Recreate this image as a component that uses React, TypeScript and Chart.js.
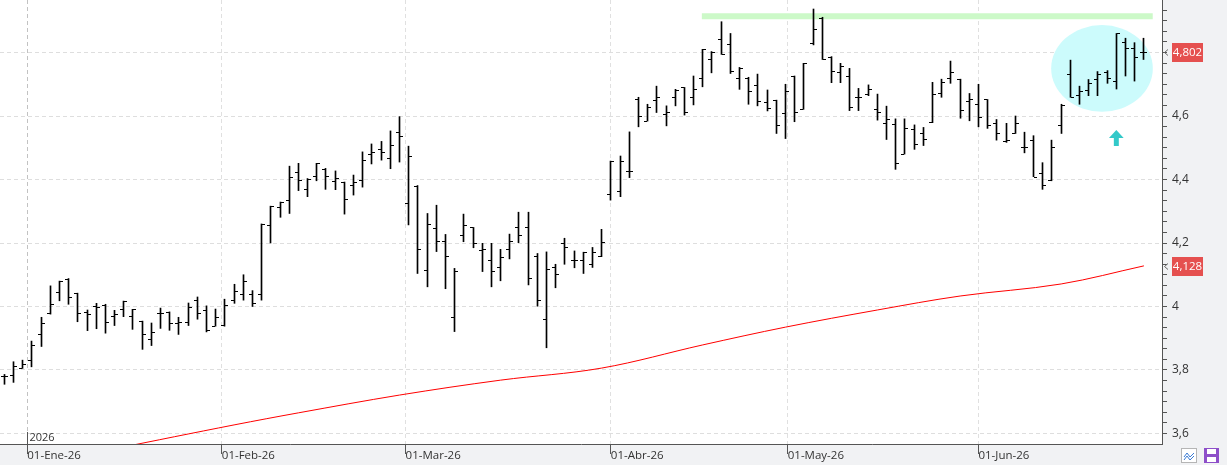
import React, { useEffect, useRef } from "react";
import { Chart, registerables } from "chart.js";
Chart.register(...registerables);

// ---- data (one bar per trading day, index 0 = 29-Dic-25) ----
const OPEN = [3.782,3.783,3.805,3.831,3.912,3.978,4.045,4.087,4.041,3.984,4.000,4.005,3.970,3.991,3.970,3.954,3.898,3.978,3.982,3.947,3.950,4.019,3.988,3.938,3.942,
4.020,4.040,4.040,4.040,4.256,4.312,4.337,4.423,4.369,4.411,4.434,4.395,4.391,4.382,4.400,4.480,4.495,4.467,4.549,4.325,
4.380,4.114,4.247,4.205,3.968,4.225,4.249,4.178,4.148,4.123,4.180,4.249,4.249,4.158,3.961,4.125,4.199,4.146,4.146,4.134,4.160,
4.354,4.363,4.426,4.653,4.585,4.650,4.605,4.659,4.690,4.661,4.719,4.778,4.841,4.827,4.719,4.719,4.697,4.644,4.650,4.608,
4.726,4.621,4.829,4.908,4.787,4.739,4.726,4.659,4.668,4.621,4.578,4.575,4.480,4.559,4.545,4.582,4.674,4.719,4.716,
4.647,4.637,4.652,4.579,4.521,4.545,4.503,4.524,4.421,4.400,4.573,4.732,4.666,4.682,4.715,4.740,4.710,4.834,4.815,4.801];
const HIGH = [3.786,3.826,3.831,3.891,3.966,4.065,4.080,4.088,4.042,3.989,4.010,4.007,3.988,4.017,3.991,3.954,3.948,3.995,3.983,3.966,4.011,4.030,4.002,3.992,4.023,
4.070,4.100,4.050,4.260,4.316,4.329,4.442,4.451,4.403,4.451,4.435,4.427,4.392,4.414,4.487,4.512,4.520,4.553,4.598,4.505,
4.381,4.293,4.319,4.227,4.120,4.291,4.249,4.199,4.199,4.180,4.228,4.297,4.297,4.167,4.172,4.133,4.215,4.175,4.171,4.186,4.243,
4.458,4.474,4.550,4.659,4.637,4.694,4.632,4.684,4.690,4.726,4.810,4.803,4.897,4.860,4.753,4.722,4.732,4.682,4.650,4.700,
4.726,4.766,4.937,4.911,4.787,4.766,4.750,4.687,4.698,4.669,4.631,4.591,4.591,4.572,4.564,4.706,4.716,4.773,4.716,
4.671,4.700,4.652,4.589,4.577,4.600,4.549,4.538,4.453,4.524,4.637,4.776,4.694,4.715,4.740,4.743,4.860,4.845,4.831,4.845];
const LOW = [3.755,3.761,3.805,3.810,3.874,3.976,4.018,4.007,3.952,3.924,3.930,3.916,3.940,3.968,3.928,3.865,3.877,3.931,3.925,3.912,3.940,3.960,3.920,3.938,3.938,
4.010,4.020,4.000,4.020,4.200,4.281,4.293,4.365,4.346,4.396,4.369,4.368,4.291,4.351,4.376,4.449,4.461,4.434,4.455,4.257,
4.104,4.062,4.173,4.056,3.921,4.204,4.185,4.110,4.062,4.081,4.150,4.201,4.068,4.001,3.870,4.059,4.133,4.122,4.104,4.123,4.157,
4.335,4.346,4.406,4.566,4.584,4.611,4.569,4.632,4.603,4.635,4.692,4.736,4.794,4.734,4.684,4.637,4.632,4.616,4.545,4.529,
4.582,4.621,4.824,4.778,4.705,4.705,4.617,4.617,4.664,4.587,4.526,4.432,4.480,4.495,4.507,4.579,4.659,4.703,4.593,
4.585,4.566,4.561,4.524,4.517,4.545,4.484,4.409,4.369,4.396,4.545,4.659,4.637,4.664,4.664,4.703,4.685,4.726,4.710,4.778];
const CLOSE = [3.781,3.812,3.818,3.878,3.949,4.008,4.080,4.029,3.980,3.976,3.998,3.951,3.976,4.017,3.991,3.913,3.919,3.978,3.947,3.950,3.997,3.978,3.925,3.967,4.005,
4.050,4.080,4.010,4.260,4.316,4.329,4.408,4.398,4.403,4.451,4.411,4.406,4.340,4.392,4.460,4.486,4.488,4.509,4.537,4.473,
4.180,4.259,4.205,4.159,4.112,4.257,4.199,4.180,4.111,4.155,4.205,4.225,4.089,4.020,4.117,4.101,4.186,4.148,4.171,4.171,4.202,
4.458,4.458,4.426,4.599,4.627,4.659,4.612,4.681,4.612,4.684,4.810,4.801,4.794,4.743,4.752,4.680,4.647,4.625,4.572,4.680,
4.612,4.766,4.873,4.778,4.742,4.759,4.627,4.659,4.684,4.612,4.591,4.451,4.561,4.513,4.527,4.669,4.706,4.738,4.619,
4.652,4.596,4.572,4.545,4.526,4.577,4.503,4.409,4.383,4.501,4.635,4.659,4.680,4.703,4.732,4.719,4.860,4.813,4.785,4.802];

// moving average (read at sample bars)
const MA_X = [12, 25, 32, 43, 54, 65, 76, 85, 95, 104, 115, 124];
const MA_Y = [3.552, 3.627, 3.665, 3.721, 3.768, 3.806, 3.879, 3.935, 3.989, 4.033, 4.071, 4.128];

// month ticks (bar-index positions of each 1st of month)
const MONTH_POS = [2.5, 23.667, 43.667, 66, 85.25, 106];
const MONTH_LABELS = ["01-Ene-26", "01-Feb-26", "01-Mar-26", "01-Abr-26", "01-May-26", "01-Jun-26"];
const YEAR_LABEL = "2026";

// resistance line
const RESIST_X = [75.9, 124.96];
const RESIST_Y = 4.914;

// annotations
const ELLIPSE = { cx: 119.44, cy: 4.750, rx: 5.53, ry: 0.1364 };
const ARROW = { x: 121.0, tip: 4.556, headBase: 4.531, bottom: 4.5055, headHalf: 0.8, stemHalf: 0.27 };

const X_MIN = -0.468;
const X_MAX = 125.97;
const Y_MIN = 3.5669;
const Y_MAX = 4.9654;
const Y_MINOR = 0.2 / 6;

const FONT = "'Open Sans', 'Liberation Sans', sans-serif";

const fmt = (v: number, d: number) => v.toFixed(d).replace(".", ",");

export default function App() {
  const ref = useRef<HTMLCanvasElement | null>(null);
  useEffect(() => {
    document.body.style.margin = "0";
    const canvas = ref.current!;
    const bgPlugin = {
      id: "bg",
      beforeDraw(chart: any) {
        const { ctx, chartArea: a } = chart;
        ctx.save();
        ctx.fillStyle = "#f1f2f4";
        ctx.fillRect(0, 0, chart.width, chart.height);
        ctx.fillStyle = "#ffffff";
        ctx.fillRect(a.left, a.top, a.right - a.left, a.bottom - a.top);
        ctx.restore();
      },
      beforeDatasetsDraw(chart: any) {
        const { ctx, scales: { x, y } } = chart;
        const cx = x.getPixelForValue(ELLIPSE.cx);
        const cy = y.getPixelForValue(ELLIPSE.cy);
        const rx = Math.abs(x.getPixelForValue(ELLIPSE.cx + ELLIPSE.rx) - cx);
        const ry = Math.abs(y.getPixelForValue(ELLIPSE.cy + ELLIPSE.ry) - cy);
        ctx.save();
        ctx.fillStyle = "#ccfbfc";
        ctx.beginPath();
        ctx.ellipse(cx, cy, rx, ry, 0, 0, Math.PI * 2);
        ctx.fill();
        const ax = x.getPixelForValue(ARROW.x);
        const hh = Math.abs(x.getPixelForValue(ARROW.x + ARROW.headHalf) - ax);
        const sh = Math.abs(x.getPixelForValue(ARROW.x + ARROW.stemHalf) - ax);
        const yt = y.getPixelForValue(ARROW.tip);
        const yb = y.getPixelForValue(ARROW.headBase);
        const ys = y.getPixelForValue(ARROW.bottom);
        ctx.fillStyle = "#33c9c9";
        ctx.beginPath();
        ctx.moveTo(ax, yt);
        ctx.lineTo(ax + hh, yb);
        ctx.lineTo(ax + sh, yb);
        ctx.lineTo(ax + sh, ys);
        ctx.lineTo(ax - sh, ys);
        ctx.lineTo(ax - sh, yb);
        ctx.lineTo(ax - hh, yb);
        ctx.closePath();
        ctx.fill();
        ctx.restore();
        const meta = chart.getDatasetMeta(0);
        meta.data.forEach((el: any) => { el.x = Math.floor(el.x) + 0.5; });
      },
      afterDatasetsDraw(chart: any) {
        const { ctx, scales: { y } } = chart;
        const meta = chart.getDatasetMeta(0);
        ctx.save();
        ctx.fillStyle = "#000";
        meta.data.forEach((el: any, i: number) => {
          const left = Math.floor(el.x);
          const yo = Math.round(y.getPixelForValue(OPEN[i]));
          const yc = Math.round(y.getPixelForValue(CLOSE[i]));
          ctx.fillRect(left - 3, yo, 3, 1);
          ctx.fillRect(left + 1, yc, 3, 1);
        });
        ctx.restore();
      },
      afterDraw(chart: any) {
        const { ctx, scales: { x, y }, chartArea: a } = chart;
        ctx.save();
        const yx = Math.round(x.getPixelForValue(MONTH_POS[0])) + 0.5;
        ctx.strokeStyle = "#555";
        ctx.lineWidth = 1;
        ctx.beginPath();
        ctx.moveTo(yx, a.bottom - 12);
        ctx.lineTo(yx, a.bottom);
        ctx.stroke();
        ctx.fillStyle = "#333";
        ctx.font = `11px ${FONT}`;
        ctx.textBaseline = "alphabetic";
        ctx.textAlign = "left";
        ctx.fillText(YEAR_LABEL, yx + 2, a.bottom - 3);
        const labels = [CLOSE[CLOSE.length - 1], MA_Y[MA_Y.length - 1]];
        labels.forEach((v) => {
          const py = Math.round(y.getPixelForValue(v));
          const bx = a.right + 10;
          ctx.fillStyle = "#e5504f";
          ctx.fillRect(bx, py - 9, 31, 19);
          ctx.fillStyle = "#fff";
          ctx.font = `11.5px ${FONT}`;
          ctx.textAlign = "center";
          ctx.textBaseline = "middle";
          ctx.fillText(fmt(v, 3), bx + 15.5, py + 1);
          ctx.strokeStyle = "#666";
          ctx.beginPath();
          ctx.moveTo(a.right + 6, py - 2.5);
          ctx.lineTo(a.right + 2.5, py + 0.5);
          ctx.lineTo(a.right + 6, py + 3.5);
          ctx.stroke();
        });
        ctx.fillStyle = "#ffffff";
        ctx.strokeStyle = "#b5b5b5";
        ctx.fillRect(1181, 448, 16, 15);
        ctx.strokeRect(1181.5, 448.5, 15, 14);
        ctx.strokeStyle = "#3a7bd5";
        ctx.beginPath();
        ctx.moveTo(1184, 457); ctx.lineTo(1187, 453); ctx.lineTo(1190, 457); ctx.lineTo(1194, 453);
        ctx.moveTo(1184, 460); ctx.lineTo(1187, 456); ctx.lineTo(1190, 460); ctx.lineTo(1194, 456);
        ctx.stroke();
        ctx.fillStyle = "#8e4fc9";
        ctx.fillRect(1204, 448, 15, 15);
        ctx.fillStyle = "#ffffff";
        ctx.fillRect(1207, 449, 9, 5);
        ctx.fillRect(1207, 457, 9, 5);
        ctx.restore();
      },
    };

    const chart = new Chart(canvas, {
      type: "bar",
      data: {
        datasets: [
          {
            type: "bar",
            label: "OHLC",
            data: HIGH.map((h, i) => ({ x: i, y: [LOW[i], h] })) as any,
            backgroundColor: "#000000",
            barThickness: 1,
            order: 0,
          },
          {
            type: "line",
            label: "Media",
            data: MA_X.map((xv, i) => ({ x: xv, y: MA_Y[i] })) as any,
            borderColor: "#ff0000",
            borderWidth: 1,
            pointRadius: 0,
            tension: 0.35,
            order: 2,
          },
          {
            type: "line",
            label: "Resistencia",
            data: RESIST_X.map((xv) => ({ x: xv, y: RESIST_Y })) as any,
            borderColor: "#ccf9c8",
            borderWidth: 6,
            borderCapStyle: "butt",
            pointRadius: 0,
            order: 3,
          },
        ],
      },
      options: {
        responsive: false,
        animation: false,
        layout: { padding: 0 },
        plugins: { legend: { display: false }, tooltip: { enabled: false } },
        scales: {
          x: {
            type: "linear",
            position: "bottom",
            min: X_MIN,
            max: X_MAX,
            offset: false,
            afterBuildTicks: (s: any) => { s.ticks = MONTH_POS.map((v) => ({ value: v })); },
            afterFit: (s: any) => { s.height = 21; s.paddingLeft = 0; s.paddingRight = 0; s.paddingTop = 0; s.paddingBottom = 0; },
            ticks: {
              autoSkip: false,
              maxRotation: 0,
              align: "start",
              padding: -5,
              color: "#333",
              font: { family: FONT, size: 11.5 },
              callback: (_v: any, i: number) => MONTH_LABELS[i],
            },
            grid: {
              offset: false,
              color: (c: any) => (c.index === 0 ? "#c2c2c2" : "#e0e0e0"),
              tickColor: "#555",
              tickLength: 10,
            },
            border: { color: "#555", dash: [4, 3] },
          },
          y: {
            type: "linear",
            position: "right",
            min: Y_MIN,
            max: Y_MAX,
            beginAtZero: false,
            afterBuildTicks: (s: any) => {
              const t: any[] = [];
              for (let k = Math.ceil((Y_MIN - 3.6) / Y_MINOR - 1e-9); ; k++) {
                const v = 3.6 + k * Y_MINOR;
                if (v > Y_MAX) break;
                t.push({ value: v });
              }
              s.ticks = t;
            },
            afterFit: (s: any) => { s.width = 65; s.paddingTop = 0; s.paddingBottom = 0; s.paddingLeft = 0; s.paddingRight = 0; },
            ticks: {
              autoSkip: false,
              padding: 5,
              color: "#333",
              font: { family: FONT, size: 12 },
              callback: (v: any) => {
                const n = Number(v);
                const major = Math.abs(n * 5 - Math.round(n * 5)) < 1e-6;
                if (!major || Math.abs(n - 4.8) < 1e-6) return "";
                const r = Math.round(n * 10) / 10;
                return fmt(r, Number.isInteger(r) ? 0 : 1);
              },
            },
            grid: {
              color: (c: any) => {
                const n = c.tick ? c.tick.value : 0;
                return Math.abs(n * 5 - Math.round(n * 5)) < 1e-6 ? "#dedede" : "rgba(0,0,0,0)";
              },
              tickColor: "#555",
              tickLength: 5,
            },
            border: { color: "#555", dash: [4, 3] },
          },
        },
      },
      plugins: [bgPlugin],
    });
    return () => chart.destroy();
  }, []);
  return <canvas ref={ref} width={1227} height={465} style={{ display: "block" }} />;
}
